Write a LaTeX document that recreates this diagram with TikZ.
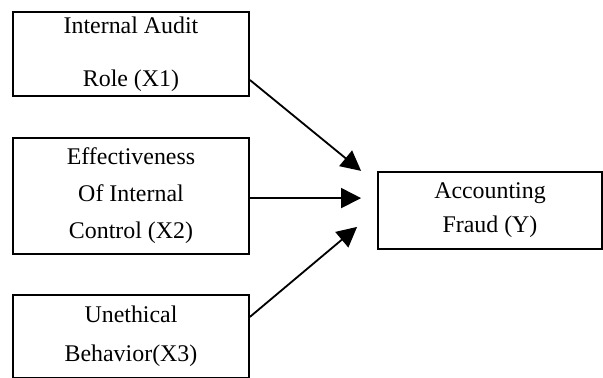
\documentclass[tikz,border=0pt]{standalone}
\usepackage{fontspec}
\setmainfont{Liberation Serif}
\usetikzlibrary{arrows.meta}
\tikzset{
    varbox/.style={draw, line width=1.3pt, align=center, inner sep=0pt},
    arr/.style={line width=1.3pt, -{Triangle[length=0.5cm,width=0.5cm]}}
}
\begin{document}
\begin{tikzpicture}
        \useasboundingbox (0,0) rectangle (15.075,9.45);
        \node [varbox, minimum width=5.9cm, minimum height=2.1cm, font=\fontsize{17}{37.7}\selectfont] (x1) at (3.275,8.1) {Internal Audit\\Role (X1)};
        \node [varbox, minimum width=5.9cm, minimum height=2.9cm, font=\fontsize{17}{26.3}\selectfont] (x2) at (3.275,4.55) {Effectiveness\\Of Internal\\Control (X2)};
        \node [varbox, minimum width=5.9cm, minimum height=2.075cm, font=\fontsize{17}{27.7}\selectfont] (x3) at (3.275,1.0375) {Unethical\\Behavior(X3)};
        \node [varbox, minimum width=5.6cm, minimum height=1.925cm, font=\fontsize{17}{24.2}\selectfont] (y) at (12.25,4.1875) {Accounting\\Fraud (Y)};
        \coordinate (t1) at ([xshift=-0.4cm,yshift=0.99cm]y.west);
        \coordinate (t2) at ([xshift=-0.4cm,yshift=0.31cm]y.west);
        \coordinate (t3) at ([xshift=-0.5cm,yshift=-0.41cm]y.west);
        \draw [arr] ([yshift=-0.65cm]x1.east)--(t1);
        \draw [arr] ([yshift=-0.05cm]x2.east)--(t2);
        \draw [arr] ([yshift=0.49cm]x3.east)--(t3);
    \end{tikzpicture}
\end{document}
